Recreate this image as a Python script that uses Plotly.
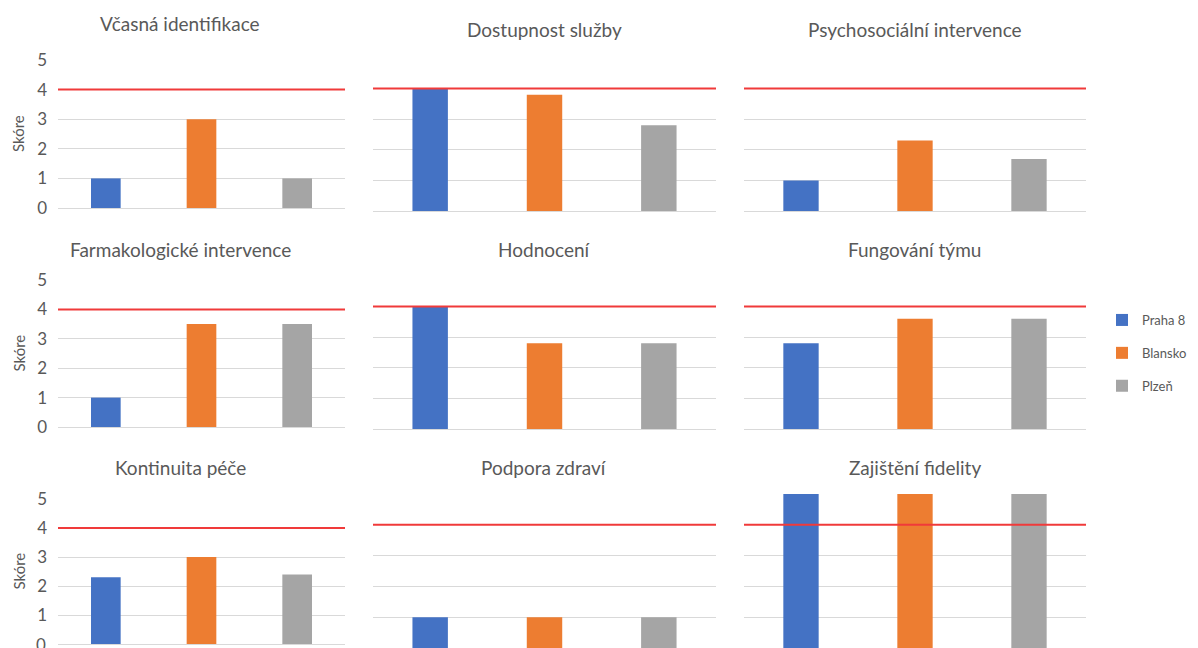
import plotly.graph_objects as go

# Panel titles in grid order (row by row)
domains = [
    "Včasná identifikace", "Dostupnost služby", "Psychosociální intervence",
    "Farmakologické intervence", "Hodnocení", "Fungování týmu",
    "Kontinuita péče", "Podpora zdraví", "Zajištění fidelity",
]

series_names = ["Praha 8", "Blansko", "Plzeň"]
series_colors = ["#4472C4", "#ED7D31", "#A5A5A5"]

# Scores per team, one value per panel
praha8 = [1.0, 4.0, 1.0, 1.0, 4.0, 2.8, 2.3, 1.0, 5.0]
blansko = [3.0, 3.8, 2.3, 3.5, 2.8, 3.6, 3.0, 1.0, 5.0]
plzen = [1.0, 2.8, 1.7, 3.5, 2.8, 3.6, 2.4, 1.0, 5.0]

threshold = 4
y_ticks = [0, 1, 2, 3, 4, 5]
y_label = "Skóre"

W, H = 1198, 648
FONT = "Lato"
TXT = "#595959"
GRID = "#D9D9D9"

# Plot-area boxes in pixels: columns (left, right), rows (top, bottom)
col_px = [(58, 345), (373, 716), (744, 1086)]
row_px_left = [(60, 208), (280, 427), (499, 644)]
row_px_other = [(58, 211), (276, 429), (494, 648)]
title_x = [180, 544, 915]
title_y = [23, 249, 467]
title_y_other = [30, 249, 467]

values = [praha8, blansko, plzen]

fig = go.Figure()
layout = {}
annotations = []
shapes = []

for i, name in enumerate(domains):
    r, c = divmod(i, 3)
    k = "" if i == 0 else str(i + 1)
    x0, x1 = col_px[c]
    t, b = (row_px_left if c == 0 else row_px_other)[r]
    layout["xaxis" + k] = dict(
        domain=[x0 / W, x1 / W], anchor="y" + k, type="category",
        categoryorder="array", categoryarray=series_names,
        range=[-0.5, 2.5], showticklabels=False, showgrid=False,
        zeroline=False, showline=False, ticks="", fixedrange=True,
        automargin=False,
    )
    layout["yaxis" + k] = dict(
        domain=[1 - b / H, 1 - t / H], anchor="x" + k,
        range=[0, 5], tickvals=y_ticks, showgrid=True, gridcolor=GRID,
        gridwidth=1, zeroline=True, zerolinecolor=GRID, zerolinewidth=1,
        showline=False, ticks="", showticklabels=(c == 0),
        tickfont=dict(family=FONT, size=17, color=TXT),
        ticklabelstandoff=10, fixedrange=True, automargin=False,
    )
    for s, sname in enumerate(series_names):
        fig.add_trace(go.Bar(
            x=[sname], y=[values[s][i]], width=0.31,
            marker=dict(color=series_colors[s], line=dict(width=0)),
            name=sname, legendgroup=sname, showlegend=(i == 0),
            xaxis="x" + k, yaxis="y" + k,
        ))
    # Target score line
    shapes.append(dict(
        type="line", xref=f"x{k} domain", yref="y" + k,
        x0=0, x1=1, y0=threshold, y1=threshold,
        line=dict(color="#F03A3A", width=2), layer="above",
    ))
    annotations.append(dict(
        text=name, xref="paper", yref="paper",
        x=title_x[c] / W, y=1 - (title_y[r] if c == 0 else title_y_other[r]) / H,
        xanchor="center", yanchor="middle", showarrow=False,
        font=dict(family=FONT, size=19, color=TXT),
    ))
    if c == 0:
        annotations.append(dict(
            text=y_label, xref="paper", yref="paper",
            x=18 / W, y=1 - (t + b) / 2 / H, textangle=-90,
            xanchor="center", yanchor="middle", showarrow=False,
            font=dict(family=FONT, size=15, color=TXT),
        ))

# Bottom-left "0" label sits at the page edge, where the axis would drop it
annotations.append(dict(
    text=str(y_ticks[0]), xref="x7 domain", yref="y7",
    x=0, y=y_ticks[0], xanchor="right", yanchor="middle",
    xshift=-10, showarrow=False,
    font=dict(family=FONT, size=17, color=TXT),
))

fig.update_layout(
    width=W, height=H,
    margin=dict(l=0, r=0, t=0, b=0, autoexpand=False),
    paper_bgcolor="white", plot_bgcolor="white",
    barmode="overlay",
    annotations=annotations, shapes=shapes,
    showlegend=True,
    legend=dict(
        x=1102 / W, y=1 - 353 / H, xanchor="left", yanchor="middle",
        traceorder="grouped", tracegroupgap=13, itemwidth=30,
        font=dict(family=FONT, size=13, color=TXT),
        bgcolor="rgba(0,0,0,0)",
    ),
    **layout,
)

fig.write_html("out.html")
